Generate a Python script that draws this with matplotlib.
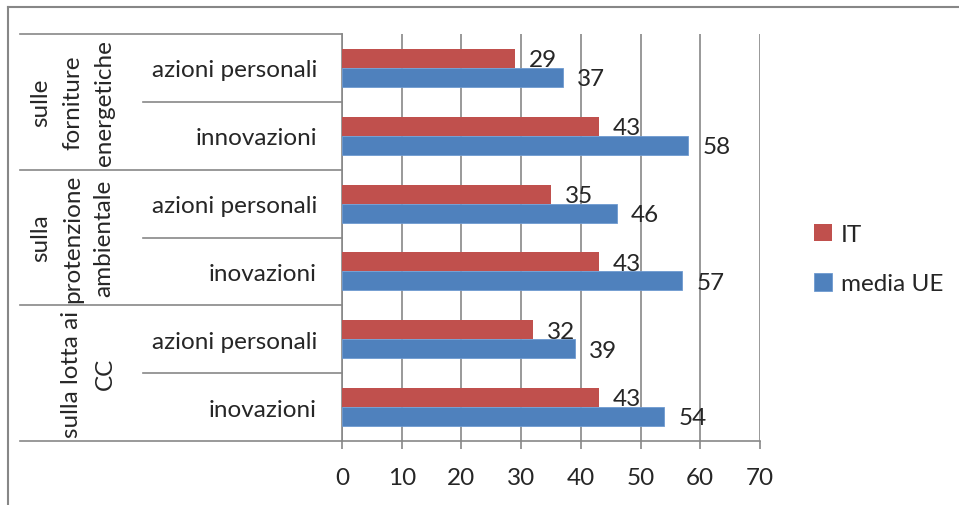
import matplotlib.pyplot as plt
import matplotlib.transforms as mtransforms
from matplotlib.lines import Line2D
import numpy as np

plt.rcParams['font.family'] = ['Lato', 'DejaVu Sans']

# data, top to bottom
categories = ['azioni personali', 'innovazioni',
              'azioni personali', 'inovazioni',
              'azioni personali', 'inovazioni']
groups = [['sulle', 'forniture', 'energetiche'],
          ['sulla', 'protenzione', 'ambientale'],
          ['sulla lotta ai', 'CC']]
it_values = [29, 43, 35, 43, 32, 43]
ue_values = [37, 58, 46, 57, 39, 54]
series_names = ['IT', 'media UE']

W, H = 959, 506
fig = plt.figure(figsize=(W / 100, H / 100), dpi=100)
fig.patch.set_facecolor('white')

# axes placed in pixels
x0, x1, ytop, ybot = 342, 760, 35, 442
ax = fig.add_axes([x0 / W, 1 - ybot / H, (x1 - x0) / W, (ybot - ytop) / H])

txt = '#262626'
grid = '#878787'
red = '#C0504D'
blue = '#4F81BD'
fs = 17.5

y = np.arange(len(categories))
bh = 0.28
b1 = ax.barh(y - bh / 2, it_values, height=bh, color=red, label=series_names[0], zorder=3)
b2 = ax.barh(y + bh / 2, ue_values, height=bh, color=blue, edgecolor='#6f9ad0',
             linewidth=0.6, label=series_names[1], zorder=3)

for bars, vals in [(b1, it_values), (b2, ue_values)]:
    for rect, v in zip(bars, vals):
        ax.annotate(str(v), (v, rect.get_y() + rect.get_height() / 2),
                    xytext=(10, -1), textcoords='offset points',
                    ha='left', va='center', fontsize=fs, color=txt, zorder=4)

ax.set_xlim(0, 70)
ax.set_ylim(len(categories) - 0.5, -0.5)
ax.set_xticks(np.arange(0, 71, 10))
ax.xaxis.grid(True, color=grid, linewidth=1.2, zorder=0)
ax.tick_params(axis='x', length=6, width=1.2, color=grid, labelsize=fs,
               labelcolor=txt, pad=13)
ax.set_yticks(y)
ax.set_yticklabels(categories)
ax.tick_params(axis='y', length=0, labelsize=fs, labelcolor=txt, pad=18)
for s in ['top', 'right']:
    ax.spines[s].set_visible(False)
for s in ['left', 'bottom']:
    ax.spines[s].set_color(grid)
    ax.spines[s].set_linewidth(1.2)

# multi-level category axis lines
tr = mtransforms.blended_transform_factory(ax.transAxes, ax.transData)
xl_long = (20 - x0) / (x1 - x0)
xl_short = (143 - x0) / (x1 - x0)
for b in np.arange(-0.5, len(categories), 1.0):
    xs = xl_long if int(b + 0.5) % 2 == 0 else xl_short
    ax.add_line(Line2D([xs, 0], [b, b], transform=tr, color=grid,
                       linewidth=1.2, clip_on=False))

# group labels (rotated)
line_x = {3: [41, 73, 104], 2: [72, 105]}
for gi, lines in enumerate(groups):
    yc = gi * 2 + 0.5
    for xp, s in zip(line_x[len(lines)], lines):
        ax.text((xp - x0) / (x1 - x0), yc, s, transform=tr, rotation=90,
                ha='center', va='center', fontsize=fs, color=txt)

# legend
fig.legend(handles=[b1, b2], labels=series_names, loc='center left',
           bbox_to_anchor=(792 / W, 1 - 260 / H), frameon=False, fontsize=fs,
           handlelength=0.75, handleheight=0.75, handletextpad=0.35,
           labelspacing=1.15, labelcolor=txt)

# chart border (left and top)
fig.add_artist(Line2D([8 / W, 8 / W], [0, 1 - 8 / H], color=grid, linewidth=1.5,
                      transform=fig.transFigure))
fig.add_artist(Line2D([8 / W, 1], [1 - 8 / H, 1 - 8 / H], color=grid, linewidth=1.5,
                      transform=fig.transFigure))

fig.savefig('out.png', dpi=100)
